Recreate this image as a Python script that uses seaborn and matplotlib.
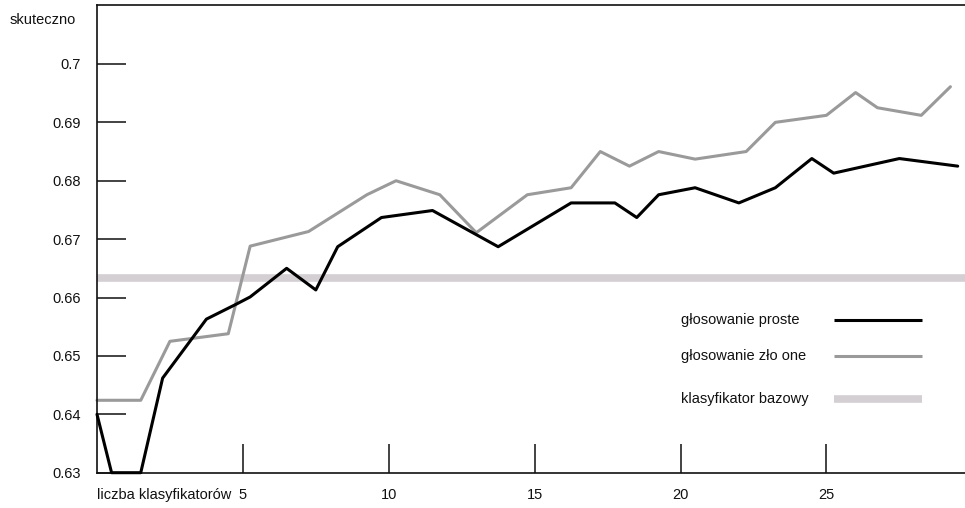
import matplotlib
matplotlib.use("Agg")
import matplotlib.pyplot as plt
import seaborn as sns
import pandas as pd

# positions on the x axis (liczba klasyfikatorów) and accuracy (skuteczność)
simple_x = [0, 0.5, 1.5, 2.25, 3.75, 4.75, 5.25, 6.5, 7.5, 8.25, 9.75, 11.5,
            13.75, 16.25, 17.75, 18.5, 19.25, 20.5, 22, 23.25, 24.5, 25.25,
            27.5, 29.5]
simple_y = [0.640, 0.630, 0.630, 0.6462, 0.6563, 0.6588, 0.6601, 0.6650,
            0.6613, 0.6687, 0.6737, 0.6749, 0.6687, 0.6762, 0.6762, 0.6737,
            0.6776, 0.6788, 0.6762, 0.6788, 0.6838, 0.6813, 0.6838, 0.6825]

weighted_x = [0, 1.5, 2.5, 4.5, 5.25, 7.25, 9.25, 10.25, 11.75, 13, 14.75,
              16.25, 17.25, 18.25, 19.25, 20.5, 22.25, 23.25, 25, 26, 26.75,
              28.25, 29.25]
weighted_y = [0.6424, 0.6424, 0.6525, 0.6538, 0.6688, 0.6713, 0.6776, 0.6800,
              0.6776, 0.6711, 0.6776, 0.6788, 0.6850, 0.6825, 0.6850, 0.6837,
              0.6850, 0.6900, 0.6912, 0.6951, 0.6925, 0.6912, 0.6961]

base_accuracy = 0.6634

labels = ["głosowanie proste", "głosowanie zło one", "klasyfikator bazowy"]
colors = ["#000000", "#9a9a9a", "#d4cfd2"]
x_ticks = [5, 10, 15, 20, 25]
y_ticks = [0.63, 0.64, 0.65, 0.66, 0.67, 0.68, 0.69, 0.70]
y_ticklabels = ["0.63", "0.64", "0.65", "0.66", "0.67", "0.68", "0.69", "0.7"]

FS = 10.5

sns.set_style("white")
plt.rcParams["font.family"] = ["Liberation Sans", "DejaVu Sans"]
plt.rcParams["font.size"] = FS

simple_df = pd.DataFrame({"x": simple_x, "y": simple_y})
weighted_df = pd.DataFrame({"x": weighted_x, "y": weighted_y})

fig = plt.figure(figsize=(9.65, 5.08), dpi=100)
ax = fig.add_axes([0.1005, 0.0695, 0.8995, 0.9207])

ax.axhline(base_accuracy, color=colors[2], lw=5.5, zorder=1,
           solid_capstyle="butt")
sns.lineplot(data=weighted_df, x="x", y="y", ax=ax, color=colors[1], lw=2.2,
             sort=False, estimator=None, zorder=2)
sns.lineplot(data=simple_df, x="x", y="y", ax=ax, color=colors[0], lw=2.2,
             sort=False, estimator=None, zorder=3)
for ln in ax.lines[1:]:
    ln.set_clip_on(False)

ax.set_xlim(0, 29.75)
ax.set_ylim(0.63, 0.7101)
ax.set_xticks(x_ticks)
ax.set_xticklabels([str(t) for t in x_ticks])
ax.set_yticks(y_ticks)
ax.set_yticklabels(y_ticklabels)
ax.set_xlabel("")
ax.set_ylabel("")

ax.tick_params(axis="both", direction="in", length=21, width=1.2,
               color="#222222", labelsize=FS, labelcolor="#111111",
               bottom=True, left=True, top=False, right=False)
ax.tick_params(axis="y", pad=11.5)
ax.tick_params(axis="x", pad=11)

for side in ["left", "top", "bottom"]:
    ax.spines[side].set_color("#111111")
    ax.spines[side].set_linewidth(1.2)
ax.spines["right"].set_visible(False)

# axis titles in the corners
fig.text(10 / 965, 1 - 20 / 508, "skuteczno", ha="left", va="center",
         fontsize=FS, color="#111111")
ax.annotate("liczba klasyfikatorów", xy=(0, 0), xycoords="axes fraction",
            xytext=(0, -16), textcoords="offset points", ha="left",
            va="center", fontsize=FS, color="#111111")

# hand placed legend
legend_rows = [(320, 2.2), (355.7, 2.2), (399.3, 5.5)]
for (ypx, lw), lab, col in zip(legend_rows, labels, colors):
    yf = 1 - ypx / 508
    fig.text(681 / 965, yf, lab, ha="left", va="center", fontsize=FS,
             color="#111111")
    fig.add_artist(plt.Line2D([834 / 965, 922 / 965], [yf, yf], color=col,
                              lw=lw, solid_capstyle="butt",
                              transform=fig.transFigure))

fig.savefig("out.png", dpi=100)
